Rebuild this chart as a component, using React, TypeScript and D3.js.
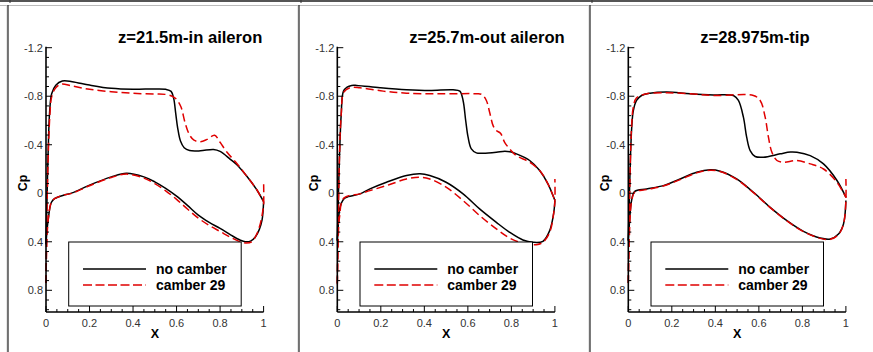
import React from "react";
import * as d3 from "d3";

type Pt = [number, number];

const titles = ["z=21.5m-in aileron", "z=25.7m-out aileron", "z=28.975m-tip"];
const seriesNames = ["no camber", "camber 29"];
const xTickValues = [0, 0.2, 0.4, 0.6, 0.8, 1];
const xTickLabels = ["0", "0.2", "0.4", "0.6", "0.8", "1"];
const yTickValues = [-1.2, -0.8, -0.4, 0, 0.4, 0.8];
const yTickLabels = ["-1.2", "-0.8", "-0.4", "0", "0.4", "0.8"];

// Panel 1: z=21.5m
const p1NoCamberUpper: Pt[] = [[0,0.42],[0.004,0.1],[0.01,-0.35],[0.017,-0.68],[0.026,-0.82],[0.045,-0.89],[0.075,-0.925],[0.12,-0.92],[0.2,-0.892],[0.3,-0.865],[0.4,-0.857],[0.5,-0.86],[0.55,-0.857],[0.575,-0.84],[0.587,-0.78],[0.596,-0.66],[0.605,-0.54],[0.618,-0.43],[0.635,-0.375],[0.66,-0.352],[0.71,-0.35],[0.77,-0.361],[0.8,-0.345],[0.847,-0.28],[0.877,-0.235],[0.923,-0.14],[0.97,-0.025],[1.0,0.07]];
const p1NoCamberLower: Pt[] = [[0,0.42],[0.005,0.3],[0.01,0.22],[0.02,0.1],[0.026,0.071],[0.041,0.043],[0.08,0.016],[0.12,-0.003],[0.2,-0.067],[0.3,-0.135],[0.37,-0.165],[0.45,-0.135],[0.5,-0.094],[0.55,-0.04],[0.6,0.024],[0.65,0.1],[0.7,0.18],[0.75,0.24],[0.8,0.29],[0.85,0.345],[0.893,0.387],[0.916,0.4],[0.94,0.395],[0.962,0.36],[0.98,0.3],[0.993,0.22],[1.0,0.07]];
const p1CamberUpper: Pt[] = [[0,0.74],[0.003,0.3],[0.01,-0.3],[0.018,-0.65],[0.026,-0.796],[0.045,-0.87],[0.07,-0.9],[0.12,-0.884],[0.2,-0.857],[0.3,-0.837],[0.4,-0.824],[0.5,-0.818],[0.55,-0.815],[0.58,-0.8],[0.6,-0.774],[0.62,-0.713],[0.64,-0.576],[0.66,-0.48],[0.68,-0.438],[0.71,-0.425],[0.74,-0.444],[0.775,-0.478],[0.8,-0.42],[0.831,-0.34],[0.877,-0.246],[0.923,-0.14],[0.97,-0.025],[1.0,0.07]];
const p1CamberLower: Pt[] = [[0,0.74],[0.004,0.4],[0.01,0.22],[0.02,0.1],[0.026,0.071],[0.041,0.043],[0.08,0.016],[0.12,0.0],[0.2,-0.062],[0.3,-0.13],[0.37,-0.158],[0.45,-0.125],[0.5,-0.08],[0.55,-0.02],[0.6,0.05],[0.65,0.13],[0.7,0.205],[0.75,0.265],[0.8,0.315],[0.85,0.365],[0.9,0.405],[0.92,0.41],[0.945,0.4],[0.965,0.35],[0.985,0.25],[0.996,0.15],[1.0,0.1],[1.0,-0.1]];

// Panel 2: z=25.7m
const p2NoCamberUpper: Pt[] = [[0,0.39],[0.004,0.1],[0.01,-0.3],[0.018,-0.65],[0.028,-0.84],[0.045,-0.875],[0.066,-0.889],[0.089,-0.889],[0.196,-0.87],[0.318,-0.853],[0.425,-0.847],[0.532,-0.853],[0.563,-0.842],[0.578,-0.765],[0.59,-0.6],[0.601,-0.462],[0.616,-0.366],[0.639,-0.333],[0.67,-0.33],[0.731,-0.338],[0.77,-0.347],[0.8,-0.34],[0.823,-0.325],[0.884,-0.27],[0.93,-0.187],[0.968,-0.077],[1.0,0.06]];
const p2NoCamberLower: Pt[] = [[0,0.39],[0.005,0.25],[0.012,0.12],[0.03,0.047],[0.05,0.028],[0.104,0.005],[0.15,-0.036],[0.226,-0.091],[0.318,-0.146],[0.38,-0.16],[0.425,-0.146],[0.5,-0.091],[0.578,0.005],[0.654,0.129],[0.731,0.24],[0.792,0.322],[0.853,0.385],[0.899,0.404],[0.945,0.396],[0.976,0.308],[0.994,0.17],[1.0,0.06]];
const p2CamberUpper: Pt[] = [[0,0.75],[0.004,0.3],[0.01,-0.3],[0.018,-0.65],[0.03,-0.834],[0.058,-0.87],[0.104,-0.87],[0.211,-0.842],[0.318,-0.825],[0.471,-0.82],[0.639,-0.82],[0.665,-0.814],[0.685,-0.765],[0.7,-0.668],[0.716,-0.558],[0.731,-0.517],[0.75,-0.495],[0.769,-0.42],[0.792,-0.366],[0.823,-0.31],[0.884,-0.256],[0.93,-0.187],[0.968,-0.077],[1.0,0.06]];
const p2CamberLower: Pt[] = [[0,0.74],[0.004,0.4],[0.01,0.2],[0.03,0.04],[0.104,0.005],[0.15,-0.022],[0.226,-0.063],[0.318,-0.118],[0.38,-0.132],[0.425,-0.118],[0.5,-0.05],[0.578,0.06],[0.654,0.184],[0.731,0.294],[0.792,0.369],[0.853,0.413],[0.914,0.424],[0.945,0.404],[0.976,0.322],[0.994,0.17],[1.0,0.06],[1.0,-0.118]];

// Panel 3: z=28.975m
const p3NoCamberUpper: Pt[] = [[0,0.39],[0.004,0.1],[0.01,-0.3],[0.016,-0.55],[0.023,-0.68],[0.038,-0.765],[0.061,-0.806],[0.1,-0.825],[0.176,-0.834],[0.284,-0.82],[0.391,-0.81],[0.483,-0.806],[0.506,-0.765],[0.529,-0.627],[0.544,-0.462],[0.56,-0.352],[0.583,-0.303],[0.621,-0.297],[0.698,-0.325],[0.745,-0.34],[0.775,-0.338],[0.836,-0.31],[0.897,-0.242],[0.959,-0.105],[1.0,0.033]];
const p3NoCamberLower: Pt[] = [[0,0.39],[0.005,0.25],[0.015,0.06],[0.03,-0.016],[0.084,-0.036],[0.161,-0.063],[0.238,-0.118],[0.314,-0.173],[0.376,-0.193],[0.422,-0.182],[0.498,-0.118],[0.575,-0.008],[0.652,0.116],[0.729,0.226],[0.805,0.314],[0.882,0.369],[0.928,0.377],[0.966,0.336],[0.989,0.253],[1.0,0.06]];
const p3CamberUpper: Pt[] = [[0,0.74],[0.004,0.3],[0.01,-0.3],[0.016,-0.58],[0.023,-0.71],[0.038,-0.787],[0.084,-0.82],[0.176,-0.828],[0.284,-0.82],[0.4,-0.806],[0.575,-0.806],[0.606,-0.765],[0.629,-0.627],[0.644,-0.462],[0.66,-0.338],[0.683,-0.27],[0.713,-0.256],[0.775,-0.27],[0.836,-0.242],[0.897,-0.2],[0.959,-0.09],[1.0,0.033]];
const p3CamberLower: Pt[] = [[0,0.74],[0.004,0.4],[0.015,0.07],[0.03,-0.01],[0.084,-0.03],[0.161,-0.06],[0.238,-0.112],[0.314,-0.168],[0.376,-0.19],[0.422,-0.18],[0.498,-0.115],[0.575,-0.005],[0.652,0.118],[0.729,0.228],[0.805,0.316],[0.882,0.372],[0.928,0.38],[0.966,0.34],[0.989,0.253],[1.0,0.06],[1.0,-0.118]];

const panelData = [
  { noCamber: [p1NoCamberUpper, p1NoCamberLower], camber: [p1CamberUpper, p1CamberLower] },
  { noCamber: [p2NoCamberUpper, p2NoCamberLower], camber: [p2CamberUpper, p2CamberLower] },
  { noCamber: [p3NoCamberUpper, p3NoCamberLower], camber: [p3CamberUpper, p3CamberLower] },
];

const W = 873;
const H = 352;
const panelX0 = [46, 337.3, 628.3];
const plotW = 217.6;
const yTop = 47.7;
const yAt08 = 290.3;
const axisY = 312;
const FONT = "'Liberation Sans', Arial, Helvetica, sans-serif";
const RED = "#e00000";

function Panel({ idx }: { idx: number }) {
  const x0 = panelX0[idx];
  const x = d3.scaleLinear().domain([0, 1]).range([x0, x0 + plotW]);
  const y = d3.scaleLinear().domain([-1.2, 0.8]).range([yTop, yAt08]);
  const line = d3
    .line<Pt>()
    .x((d) => x(d[0]))
    .y((d) => y(d[1]))
    .curve(d3.curveCatmullRom.alpha(0.5));
  const d = panelData[idx];
  const yMinor = d3.range(0, 28).map((i) => +(-1.2 + i * 0.08).toFixed(2)).filter((v) => v <= 0.97);
  const xMinor = d3.range(0, 21).map((i) => +(i * 0.05).toFixed(2));
  return (
    <g>
      <text x={x0 + 72} y={43} fontFamily={FONT} fontWeight="bold" fontSize={16.6} fill="#000">
        {titles[idx]}
      </text>
      {d.noCamber.map((pts, i) => (
        <path key={"b" + i} d={line(pts) || ""} fill="none" stroke="#000" strokeWidth={1.5} />
      ))}
      {d.camber.map((pts, i) => (
        <path key={"r" + i} d={line(pts) || ""} fill="none" stroke={RED} strokeWidth={1.5} strokeDasharray="8,4" />
      ))}
      <line x1={x0} x2={x0} y1={yTop - 1} y2={axisY} stroke="#000" strokeWidth={1.6} />
      <line x1={x0} x2={x0 + plotW} y1={axisY} y2={axisY} stroke="#000" strokeWidth={1.6} />
      {yMinor.map((v, i) => {
        const major = yTickValues.some((t) => Math.abs(t - v) < 1e-6);
        return (
          <line key={"ym" + i} x1={x0} x2={x0 + (major ? 6 : 3)} y1={y(v)} y2={y(v)} stroke="#000" strokeWidth={1} />
        );
      })}
      {xMinor.map((v, i) => {
        const major = xTickValues.some((t) => Math.abs(t - v) < 1e-6);
        return (
          <line key={"xm" + i} x1={x(v)} x2={x(v)} y1={axisY} y2={axisY - (major ? 6 : 3)} stroke="#000" strokeWidth={1} />
        );
      })}
      {yTickValues.map((v, i) => (
        <text key={"yl" + i} x={x0 - 3} y={y(v) + 4} textAnchor="end" fontFamily={FONT} fontSize={11} fill="#333">
          {yTickLabels[i]}
        </text>
      ))}
      {xTickValues.map((v, i) => (
        <text key={"xl" + i} x={x(v)} y={327} textAnchor="middle" fontFamily={FONT} fontSize={11} fill="#333">
          {xTickLabels[i]}
        </text>
      ))}
      <text x={x0 + plotW / 2} y={338} textAnchor="middle" fontFamily={FONT} fontWeight="bold" fontSize={12.5}>
        X
      </text>
      <text
        transform={`translate(${x0 - 19},${183}) rotate(-90)`}
        textAnchor="middle"
        fontFamily={FONT}
        fontWeight="bold"
        fontSize={12.5}
      >
        Cp
      </text>
      <rect x={x0 + 22.7} y={242} width={172.5} height={64} fill="#fff" stroke="#000" strokeWidth={1} />
      <line x1={x0 + 37} x2={x0 + 100} y1={269} y2={269} stroke="#000" strokeWidth={1.5} />
      <line x1={x0 + 37} x2={x0 + 100} y1={285} y2={285} stroke={RED} strokeWidth={1.5} strokeDasharray="9,3.5" />
      <text x={x0 + 110} y={273.5} fontFamily={FONT} fontWeight="bold" fontSize={14}>
        {seriesNames[0]}
      </text>
      <text x={x0 + 110} y={289.5} fontFamily={FONT} fontWeight="bold" fontSize={14}>
        {seriesNames[1]}
      </text>
    </g>
  );
}

export default function App() {
  const frameX = [8, 299, 590];
  return (
    <svg
      width={W}
      height={H}
      viewBox={`0 0 ${W} ${H}`}
      style={{ position: "absolute", left: 0, top: 0, display: "block", background: "#fff" }}
    >
      <rect x={0} y={0} width={W} height={H} fill="#fff" />
      <line x1={0} x2={W} y1={1} y2={1} stroke="#555" strokeWidth={2} />
      <line x1={0} x2={W} y1={5.5} y2={5.5} stroke="#bbb" strokeWidth={1} />
      {frameX.map((fx, i) => (
        <g key={i}>
          <line x1={fx + 2} x2={fx + 2} y1={0} y2={3} stroke="#333" strokeWidth={1} />
          <line x1={fx - 1} x2={fx - 1} y1={5} y2={H} stroke="#ccc" strokeWidth={1} />
          <line x1={fx} x2={fx} y1={5} y2={H} stroke="#222" strokeWidth={1.2} />
        </g>
      ))}
      {[0, 1, 2].map((i) => (
        <Panel key={i} idx={i} />
      ))}
    </svg>
  );
}
